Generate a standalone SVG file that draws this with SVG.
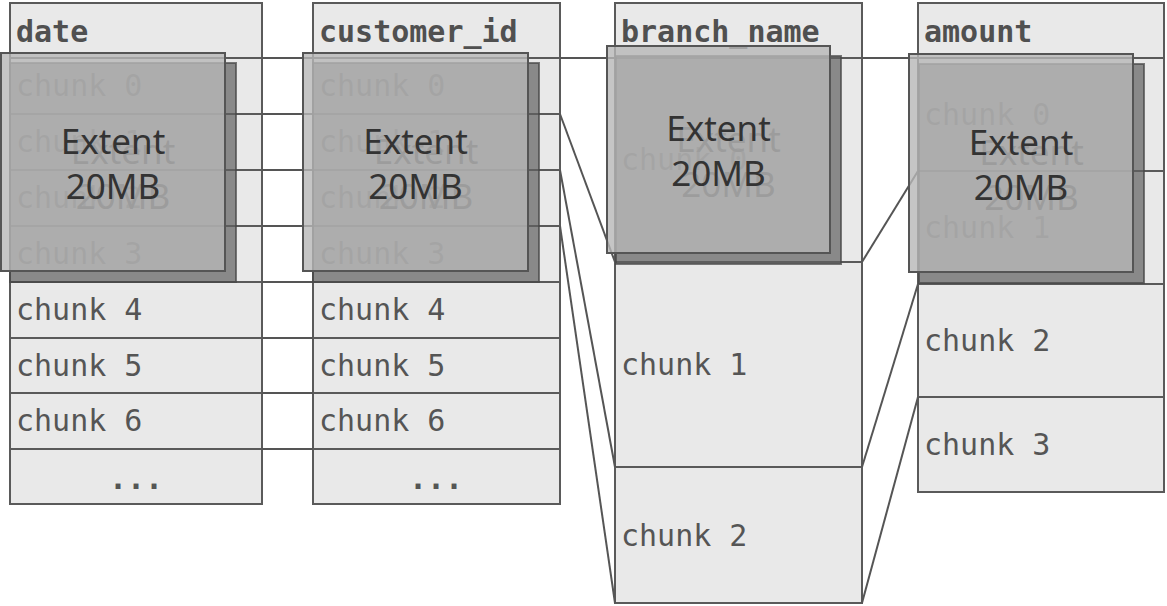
<svg xmlns="http://www.w3.org/2000/svg" width="1167" height="606" viewBox="0 0 1167 606">
<style>
.row{fill:#e9e9e9;stroke:#5a5a5a;stroke-width:2}
.hdr{font-family:"DejaVu Sans Mono","Liberation Mono",monospace;font-weight:bold;font-size:30px;fill:#505050}
.ck{font-family:"DejaVu Sans Mono","Liberation Mono",monospace;font-size:30px;fill:#555}
.dots{font-family:"DejaVu Sans Mono","Liberation Mono",monospace;font-weight:bold;font-size:30px;fill:#555;text-anchor:middle}
.conn line{stroke:#555;stroke-width:2}
.back{fill:#606060;fill-opacity:0.7;stroke:#444;stroke-opacity:0.7;stroke-width:2}
.front{fill:#b6b6b6;fill-opacity:0.8;stroke:#555;stroke-width:2}
.ext{font-family:"Noto Sans","Open Sans",sans-serif;font-size:35px;fill:#333;text-anchor:middle}
</style>
<rect width="1167" height="606" fill="#fff"/>

<g id="col-date">
<rect class="row" x="10" y="3" width="252" height="55"/>
<rect class="row" x="10" y="58" width="252" height="56"/>
<rect class="row" x="10" y="114" width="252" height="56"/>
<rect class="row" x="10" y="170" width="252" height="56"/>
<rect class="row" x="10" y="226" width="252" height="56"/>
<rect class="row" x="10" y="282" width="252" height="56"/>
<rect class="row" x="10" y="338" width="252" height="55"/>
<rect class="row" x="10" y="393" width="252" height="56"/>
<rect class="row" x="10" y="449" width="252" height="55"/>
<text class="hdr" x="16" y="42">date</text>
<text class="ck" x="16" y="96">chunk 0</text>
<text class="ck" x="16" y="152">chunk 1</text>
<text class="ck" x="16" y="208">chunk 2</text>
<text class="ck" x="16" y="264">chunk 3</text>
<text class="ck" x="16" y="320">chunk 4</text>
<text class="ck" x="16" y="376">chunk 5</text>
<text class="ck" x="16" y="431">chunk 6</text>
<text class="dots" x="136" y="489">...</text>
</g>

<g id="col-customer_id">
<rect class="row" x="313" y="3" width="247" height="55"/>
<rect class="row" x="313" y="58" width="247" height="56"/>
<rect class="row" x="313" y="114" width="247" height="56"/>
<rect class="row" x="313" y="170" width="247" height="56"/>
<rect class="row" x="313" y="226" width="247" height="56"/>
<rect class="row" x="313" y="282" width="247" height="56"/>
<rect class="row" x="313" y="338" width="247" height="55"/>
<rect class="row" x="313" y="393" width="247" height="56"/>
<rect class="row" x="313" y="449" width="247" height="55"/>
<text class="hdr" x="319" y="42">customer_id</text>
<text class="ck" x="319" y="96">chunk 0</text>
<text class="ck" x="319" y="152">chunk 1</text>
<text class="ck" x="319" y="208">chunk 2</text>
<text class="ck" x="319" y="264">chunk 3</text>
<text class="ck" x="319" y="320">chunk 4</text>
<text class="ck" x="319" y="376">chunk 5</text>
<text class="ck" x="319" y="431">chunk 6</text>
<text class="dots" x="436" y="489">...</text>
</g>

<g id="col-branch_name">
<rect class="row" x="615" y="3" width="247" height="55"/>
<rect class="row" x="615" y="58" width="247" height="204"/>
<rect class="row" x="615" y="262" width="247" height="205"/>
<rect class="row" x="615" y="467" width="247" height="136"/>
<text class="hdr" x="621" y="42">branch_name</text>
<text class="ck" x="621" y="170">chunk 0</text>
<text class="ck" x="621" y="375">chunk 1</text>
<text class="ck" x="621" y="546">chunk 2</text>
</g>

<g id="col-amount">
<rect class="row" x="918" y="3" width="246" height="55"/>
<rect class="row" x="918" y="58" width="246" height="113"/>
<rect class="row" x="918" y="171" width="246" height="113"/>
<rect class="row" x="918" y="284" width="246" height="113"/>
<rect class="row" x="918" y="397" width="246" height="95"/>
<text class="hdr" x="924" y="42">amount</text>
<text class="ck" x="924" y="125">chunk 0</text>
<text class="ck" x="924" y="238">chunk 1</text>
<text class="ck" x="924" y="351">chunk 2</text>
<text class="ck" x="924" y="455">chunk 3</text>
</g>

<g id="connectors" class="conn">
<line x1="262" y1="58" x2="313" y2="58"/>
<line x1="262" y1="114" x2="313" y2="114"/>
<line x1="262" y1="170" x2="313" y2="170"/>
<line x1="262" y1="226" x2="313" y2="226"/>
<line x1="262" y1="282" x2="313" y2="282"/>
<line x1="262" y1="338" x2="313" y2="338"/>
<line x1="262" y1="393" x2="313" y2="393"/>
<line x1="262" y1="449" x2="313" y2="449"/>
<line x1="560" y1="58" x2="615" y2="58"/>
<line x1="560" y1="114" x2="615" y2="262"/>
<line x1="560" y1="170" x2="615" y2="467"/>
<line x1="560" y1="226" x2="615" y2="603"/>
<line x1="862" y1="58" x2="918" y2="58"/>
<line x1="862" y1="262" x2="918" y2="171"/>
<line x1="862" y1="467" x2="918" y2="284"/>
<line x1="862" y1="603" x2="918" y2="397"/>
</g>

<g id="extent-date">
<rect class="back" x="10" y="63" width="226" height="219"/>
<text class="ext" x="123" y="164">Extent</text>
<text class="ext" x="123" y="209">20MB</text>
<rect class="front" x="1" y="53" width="224" height="218"/>
<text class="ext" x="113" y="154">Extent</text>
<text class="ext" x="113" y="199">20MB</text>
</g>

<g id="extent-customer_id">
<rect class="back" x="313" y="63" width="226" height="219"/>
<text class="ext" x="426" y="164">Extent</text>
<text class="ext" x="426" y="209">20MB</text>
<rect class="front" x="303" y="53" width="225" height="218"/>
<text class="ext" x="415.5" y="154">Extent</text>
<text class="ext" x="415.5" y="199">20MB</text>
</g>

<g id="extent-branch_name">
<rect class="back" x="616" y="56" width="225" height="208"/>
<text class="ext" x="728.5" y="152">Extent</text>
<text class="ext" x="728.5" y="197">20MB</text>
<rect class="front" x="607" y="46" width="223" height="207"/>
<text class="ext" x="718.5" y="141">Extent</text>
<text class="ext" x="718.5" y="186">20MB</text>
</g>

<g id="extent-amount">
<rect class="back" x="919" y="64" width="225" height="219"/>
<text class="ext" x="1031.5" y="165">Extent</text>
<text class="ext" x="1031.5" y="210">20MB</text>
<rect class="front" x="909" y="54" width="224" height="218"/>
<text class="ext" x="1021" y="155">Extent</text>
<text class="ext" x="1021" y="200">20MB</text>
</g>
</svg>
